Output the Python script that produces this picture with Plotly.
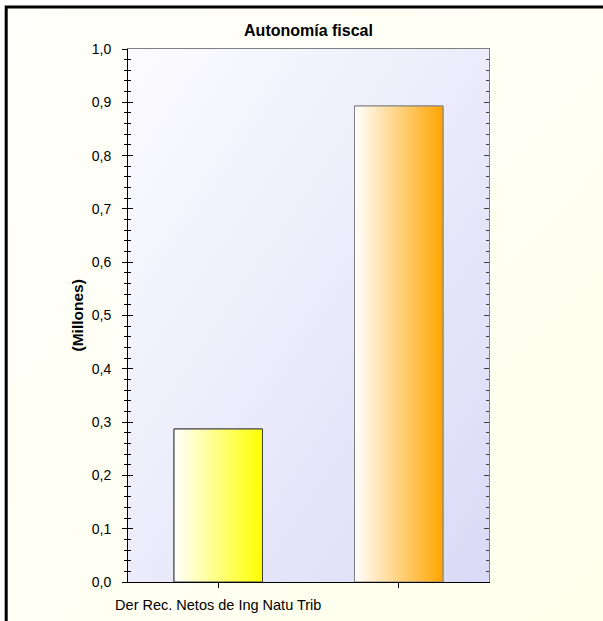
import base64
import plotly.graph_objects as go

# ---- data ----
categories = ["Der Rec. Netos de Ing Natu Trib", ""]
values = [0.287, 0.893]
bar_end_colors = ["#FFFF00", "#FFA500"]
bar_line_colors = ["#404040", "#808080"]
y_ticks = [0.0, 0.1, 0.2, 0.3, 0.4, 0.5, 0.6, 0.7, 0.8, 0.9, 1.0]

# ---- geometry (pixels) ----
W, H = 603, 621
L, R, T, B = 128, 489, 49, 582
BAR_W = 0.49
FONT = "Liberation Sans"


def px(x):
    return (x - L) / (R - L)


def py(y):
    return (B - y) / (B - T)


def svg_grad(c0, c1, x2="1", y2="1"):
    svg = (
        '<svg xmlns="http://www.w3.org/2000/svg" width="200" height="200" '
        'preserveAspectRatio="none"><defs><linearGradient id="g" x1="0" y1="0" '
        f'x2="{x2}" y2="{y2}"><stop offset="0" stop-color="{c0}"/>'
        f'<stop offset="1" stop-color="{c1}"/></linearGradient></defs>'
        '<rect width="200" height="200" fill="url(#g)"/></svg>'
    )
    return "data:image/svg+xml;base64," + base64.b64encode(svg.encode()).decode()


xs = list(range(len(categories)))

fig = go.Figure()
fig.add_trace(go.Bar(
    x=xs, y=values, width=BAR_W,
    marker=dict(color=bar_end_colors, line=dict(color=bar_line_colors, width=1)),
    hoverinfo="skip", showlegend=False,
))

# gradient overlay for each bar
for i, v in enumerate(values):
    x0, x1 = xs[i] - BAR_W / 2, xs[i] + BAR_W / 2
    fig.add_trace(go.Scatter(
        x=[x0, x1, x1, x0, x0], y=[0, 0, v, v, 0],
        mode="lines", fill="toself",
        fillgradient=dict(type="horizontal",
                          colorscale=[[0, "#FFFFFF"], [1, bar_end_colors[i]]]),
        line=dict(color=bar_line_colors[i], width=1),
        hoverinfo="skip", showlegend=False,
    ))

tickfont = dict(family=FONT, size=14, color="#000000")

fig.update_layout(
    template="none",
    width=W, height=H, autosize=False,
    margin=dict(l=L, r=W - R, t=T, b=H - B, pad=0, autoexpand=False),
    paper_bgcolor="#FFFFFF",
    plot_bgcolor="rgba(0,0,0,0)",
    font=dict(family=FONT, size=14, color="#000000"),
    title=dict(text="<b>Autonomía fiscal</b>", x=px(308.5), xref="paper",
               xanchor="center", y=1 - 30 / H, yanchor="middle",
               font=dict(family=FONT, size=16, color="#000000")),
    xaxis=dict(
        range=[-0.5, 1.5], tickvals=xs, ticktext=categories, automargin=False,
        showgrid=False, zeroline=False, showline=True, linecolor="#000000",
        linewidth=1, ticks="outside", ticklen=5, tickcolor="#000000",
        tickfont=dict(family=FONT, size=14.5, color="#000000"),
        ticklabelstandoff=5,
    ),
    xaxis2=dict(
        overlaying="x", side="top", range=[-0.5, 1.5], showgrid=False,
        zeroline=False, showline=True, linecolor="#808080", linewidth=1,
        showticklabels=False, ticks="", anchor="y", automargin=False,
    ),
    yaxis=dict(
        range=[0, 1.0], tickvals=y_ticks, tickformat=".1f", automargin=False,
        showgrid=False, zeroline=False, showline=True, linecolor="#000000",
        linewidth=1, ticks="outside", ticklen=5, tickcolor="#000000",
        minor=dict(ticks="outside", ticklen=3, dtick=0.02, tickcolor="#000000", showgrid=False),
        tickfont=tickfont, ticklabelstandoff=8,
    ),
    yaxis2=dict(
        overlaying="y", side="right", range=[0, 1.0], tickvals=y_ticks,
        showgrid=False, zeroline=False, showline=True, linecolor="#808080",
        linewidth=1, ticks="inside", ticklen=5, tickcolor="#404040",
        minor=dict(ticks="inside", ticklen=3, dtick=0.02, tickcolor="#404040", showgrid=False),
        showticklabels=False, anchor="x", automargin=False,
    ),
    yaxis3=dict(
        overlaying="y", side="left", range=[0, 1.0], tickvals=y_ticks,
        showgrid=False, zeroline=False, showline=False,
        ticks="inside", ticklen=5, tickcolor="#000000",
        minor=dict(ticks="inside", ticklen=3, dtick=0.02, tickcolor="#000000", showgrid=False),
        showticklabels=False, anchor="x", automargin=False,
    ),
    separators=", ",
    showlegend=False,
    images=[
        dict(source=svg_grad("#FFFFFB", "#FFFFEC"), xref="paper", yref="paper",
             x=px(7), y=py(8), sizex=px(W) - px(7), sizey=py(8) - py(H),
             xanchor="left", yanchor="top", sizing="stretch", layer="below"),
        dict(source=svg_grad("#FCFCFF", "#DADAF7"), xref="paper", yref="paper",
             x=0, y=1, sizex=1, sizey=1, xanchor="left", yanchor="top",
             sizing="stretch", layer="below"),
    ],
    shapes=[
        dict(type="rect", xref="paper", yref="paper",
             x0=px(6.2), y0=py(7), x1=px(W + 40), y1=py(H + 40),
             line=dict(color="#000000", width=3), fillcolor="rgba(0,0,0,0)",
             layer="below"),
    ],
    annotations=[
        dict(text="<b>(Millones)</b>", xref="paper", yref="paper",
             x=px(77), y=0.5, xanchor="center", yanchor="middle",
             textangle=-90, showarrow=False,
             font=dict(family=FONT, size=15.5, color="#000000")),
    ],
)

# attach the extra axes to invisible traces so they render
fig.add_trace(go.Scatter(x=[None], y=[None], xaxis="x2", yaxis="y", showlegend=False, hoverinfo="skip"))
fig.add_trace(go.Scatter(x=[None], y=[None], xaxis="x", yaxis="y2", showlegend=False, hoverinfo="skip"))
fig.add_trace(go.Scatter(x=[None], y=[None], xaxis="x", yaxis="y3", showlegend=False, hoverinfo="skip"))

fig.write_html(
    "out.html",
    config={"displayModeBar": False},
    post_script="document.body.style.margin='0px';document.body.style.overflow='hidden';",
)
